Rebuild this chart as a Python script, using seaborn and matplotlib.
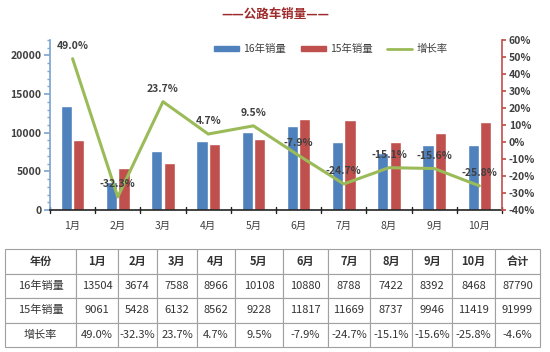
import numpy as np
import pandas as pd
import seaborn as sns
import matplotlib.pyplot as plt
from matplotlib.ticker import MultipleLocator, FuncFormatter

months = ['1月', '2月', '3月', '4月', '5月', '6月', '7月', '8月', '9月', '10月']
sales_16 = [13504, 3674, 7588, 8966, 10108, 10880, 8788, 7422, 8392, 8468]
sales_15 = [9061, 5428, 6132, 8562, 9228, 11817, 11669, 8737, 9946, 11419]
growth = [49.0, -32.3, 23.7, 4.7, 9.5, -7.9, -24.7, -15.1, -15.6, -25.8]
total_16 = 87790
total_15 = 91999
total_growth = -4.6

sns.set_theme(style='white')
plt.rcParams['font.family'] = ['Noto Sans CJK SC', 'DejaVu Sans']

blue, red, green = '#4F81BD', '#C0504D', '#9BBB59'
txt = '#404040'

df = pd.DataFrame({'月份': months * 2,
                   '销量': sales_16 + sales_15,
                   '系列': ['16年销量'] * 10 + ['15年销量'] * 10})

fig = plt.figure(figsize=(5.5, 3.52), dpi=100)
fig.patch.set_facecolor('white')
ax = fig.add_axes([50 / 550, 1 - 210 / 352, 452 / 550, 170 / 352])

sns.barplot(data=df, x='月份', y='销量', hue='系列', palette=[blue, red],
            width=0.55, gap=0.1, saturation=1, ax=ax, legend=False)
ax.set_ylim(0, 22000)
ax.set_xlim(-0.5, 9.5)
ax.set_xlabel('')
ax.set_ylabel('')
ax.yaxis.set_major_locator(MultipleLocator(5000))
ax.yaxis.set_minor_locator(MultipleLocator(1000))
ax.tick_params(axis='y', which='major', direction='out', length=4, color='#7FA7D0',
               left=True, labelsize=7.5, labelcolor=txt, pad=2)
ax.tick_params(axis='y', which='minor', direction='out', length=2, color='#7FA7D0', left=True)
ax.tick_params(axis='x', length=0, labelsize=7.5, labelcolor=txt, pad=8)
for lab in ax.get_yticklabels():
    lab.set_fontweight('bold')
for s in ['top', 'right']:
    ax.spines[s].set_visible(False)
ax.spines['left'].set_color('#7FA7D0')
ax.spines['bottom'].set_color('#222222')
ax.spines['bottom'].set_linewidth(1.2)
# category separator ticks on x axis
for xb in np.arange(-0.5, 10, 1.0):
    ax.plot([xb, xb], [-400, 400], color='#222222', lw=1, clip_on=False)

ax2 = ax.twinx()
sns.pointplot(x=months, y=growth, color=green, markers='', linewidth=2.2, ax=ax2)
ax2.set_ylim(-40, 60)
ax2.set_xlim(-0.5, 9.5)
ax2.yaxis.set_major_locator(MultipleLocator(10))
ax2.yaxis.set_major_formatter(FuncFormatter(lambda v, p: f'{v:.0f}%'))
ax2.tick_params(axis='y', direction='out', length=3, color=red, right=True,
                labelsize=7.5, labelcolor=txt, pad=2)
for lab in ax2.get_yticklabels():
    lab.set_fontweight('bold')
for s in ['top', 'left', 'bottom']:
    ax2.spines[s].set_visible(False)
ax2.spines['right'].set_color(red)
ax2.spines['right'].set_linewidth(1.2)

for i, g in enumerate(growth):
    ax2.annotate(f'{g:.1f}%', (i, g), xytext=(0, 7), textcoords='offset points',
                 ha='center', fontsize=7.5, fontweight='bold', color=txt)

handles = [plt.Rectangle((0, 0), 1, 1, color=blue),
           plt.Rectangle((0, 0), 1, 1, color=red),
           plt.Line2D([0], [0], color=green, lw=2)]
ax.legend(handles, ['16年销量', '15年销量', '增长率'], loc='upper right',
          bbox_to_anchor=(0.9, 1.03), ncol=3, frameon=False, fontsize=7.5,
          handlelength=2.4, handleheight=0.4, handletextpad=0.4,
          columnspacing=1.4, labelcolor=txt)

fig.text(0.5, 1 - 14 / 352, '——公路车销量——', ha='center', va='center',
         fontsize=9, fontweight='bold', color='#9E2A2B')

# table
tax = fig.add_axes([5 / 550, 1 - 347 / 352, 535 / 550, 98 / 352])
tax.axis('off')
header = ['年份'] + [m for m in months] + ['合计']
rows = [
    ['16年销量'] + [str(v) for v in sales_16] + [str(total_16)],
    ['15年销量'] + [str(v) for v in sales_15] + [str(total_15)],
    ['增长率'] + [f'{g:.1f}%' for g in growth] + [f'{total_growth:.1f}%'],
]
widths = np.array([71, 42, 39, 40, 38, 48, 45, 42, 42, 40, 43, 45], dtype=float)
widths = widths / widths.sum()
tbl = tax.table(cellText=[header] + rows, colWidths=widths, loc='center',
                cellLoc='center', bbox=[0, 0, 1, 1])
tbl.auto_set_font_size(False)
for (r, c), cell in tbl.get_celld().items():
    cell.set_edgecolor('#A0A0A0')
    cell.set_linewidth(0.8)
    cell.get_text().set_color('#333333')
    cell.get_text().set_fontsize(8)
    if r == 0:
        cell.get_text().set_fontweight('bold')

fig.savefig('out.png', dpi=100, facecolor='white')
